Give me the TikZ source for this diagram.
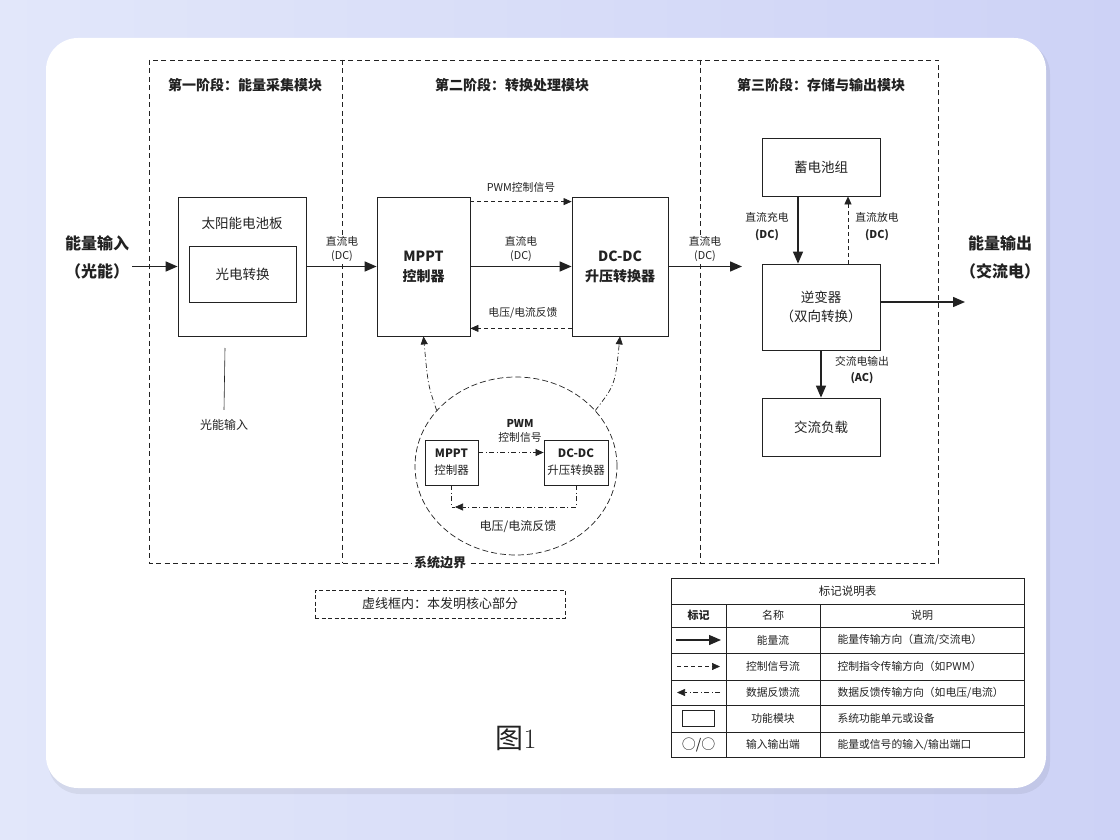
\documentclass[tikz,border=0pt]{standalone}
\usepackage{fontspec}
\newfontfamily\cjk{Noto Sans CJK SC}
\usetikzlibrary{arrows.meta,positioning,shapes.geometric}

\definecolor{bgleft}{HTML}{E2E7FA}
\definecolor{bgright}{HTML}{CDD2F6}
\definecolor{ink}{HTML}{222222}

\tikzset{
  blk/.style={draw=ink, line width=0.8pt, fill=white, align=center, inner sep=0pt},
  blktxt/.style={font=\cjk\fontsize{13.5}{19}\selectfont, align=center, text=ink},
  bigtxt/.style={font=\cjk\bfseries\fontsize{14}{20}\selectfont, align=center, text=ink},
  smalltxt/.style={font=\cjk\fontsize{11.5}{17}\selectfont, align=center, text=ink},
  lbl/.style={font=\cjk\fontsize{10.8}{14}\selectfont, align=center, text=ink},
  headtxt/.style={font=\cjk\bfseries\fontsize{16}{28}\selectfont, align=center, text=ink},
  stagetitle/.style={font=\cjk\bfseries\fontsize{14}{16}\selectfont, text=ink},
  energy/.style={draw=ink, line width=1.5pt, -{Triangle[length=12pt,width=10pt]}},
  ctrl/.style={draw=ink, line width=0.7pt, dash pattern=on 4pt off 3pt, -{Triangle[length=8pt,width=7pt]}},
  fback/.style={draw=ink, line width=0.7pt, dash pattern=on 5pt off 2.5pt on 1pt off 2.5pt, -{Triangle[length=8pt,width=7pt]}},
  frame/.style={draw=ink, line width=0.8pt, dash pattern=on 5pt off 3.5pt},
}

\begin{document}
\begin{tikzpicture}[x=1pt,y=-1pt]
\shade[left color=bgleft, right color=bgright] (0,0) rectangle (1120,840);
\useasboundingbox (0,0) rectangle (1120,840);
\fill[black, opacity=0.06, rounded corners=32pt] (48,42) rectangle (1050,794);
\fill[white, rounded corners=32pt] (46,38) rectangle (1046,788);

\draw[frame] (149,60) rectangle (938,563);
\draw[frame] (342,60) -- (342,563);
\draw[frame] (700,60) -- (700,563);

\node[stagetitle] (s1) at (245,85) {第一阶段：能量采集模块};
\node[stagetitle] (s2) at (512,85) {第二阶段：转换处理模块};
\node[stagetitle] (s3) at (821,85) {第三阶段：存储与输出模块};

% stage one
\node[headtxt] (ein) at (97,257) {能量输入\\（光能）};
\coordinate (inpt) at (132,266.5);
\node[blk, minimum width=128pt, minimum height=139pt] (panel) at (242,266.5) {};
\node[blktxt] (paneltxt) at (242,223) {太阳能电池板};
\node[blk, blktxt, minimum width=107pt, minimum height=56pt] (pv) at (242.5,274) {光电转换};
\draw[energy] (inpt) -- (panel.west);
\coordinate (pvtop) at (225,348);
\node[lbl, font=\cjk\fontsize{12}{14}\selectfont] (pvin) at (224,425) {光能输入};
\draw[draw=ink, line width=0.6pt] (pvtop) -- ([yshift=6pt]pvin.north);

% stage two
\node[blk, bigtxt, minimum width=93pt, minimum height=139pt] (mppt) at (423.5,266.5) {MPPT\\控制器};
\node[blk, bigtxt, minimum width=96pt, minimum height=139pt] (dcdc) at (620,266.5) {DC-DC\\升压转换器};
\draw[energy] (panel.east) -- (mppt.west);
\node[lbl, fill=white, inner sep=1.5pt] (dc1) at (342,249) {直流电\\(DC)};
\draw[ctrl] ([yshift=-5pt]mppt.north east) -- ([yshift=-5pt]dcdc.north west);
\node[lbl] (pwm) at (521,187) {PWM控制信号};
\draw[energy] (mppt.east) -- (dcdc.west);
\node[lbl] (dc2) at (521,249) {直流电\\(DC)};
\draw[ctrl] ([yshift=8pt]dcdc.south west) -- ([yshift=8pt]mppt.south east);
\node[lbl] (fb1) at (523,313) {电压/电流反馈};
\coordinate (dcout) at (742,266.5);
\draw[energy] (dcdc.east) -- (dcout);
\node[lbl, fill=white, inner sep=1.5pt] (dc3) at (705,249) {直流电\\(DC)};

\node[ellipse, draw=ink, line width=0.7pt, dash pattern=on 6pt off 3pt, minimum width=202pt, minimum height=178pt] (core) at (516,466) {};
\draw[fback] (core.145) .. controls (428,385) .. (mppt.south);
\draw[fback] (core.35) .. controls (615,385) .. (dcdc.south);
\node[blk, smalltxt, minimum width=53pt, minimum height=45pt] (smppt) at (451.5,462.5) {\textbf{MPPT}\\控制器};
\node[blk, smalltxt, minimum width=64pt, minimum height=45pt] (sdcdc) at (576,462.5) {\textbf{DC-DC}\\升压转换器};
\draw[fback] ([yshift=10pt]smppt.east) -- ([yshift=10pt]sdcdc.west);
\node[lbl] (pwm2) at (520,431) {\textbf{PWM}\\控制信号};
\coordinate (fbend) at (455,507);
\draw[fback] (sdcdc.south) |- (fbend);
\draw[fback, -] (smppt.south) |- (fbend);
\node[lbl, font=\cjk\fontsize{12}{14}\selectfont] (fb2) at (518,527) {电压/电流反馈};

\node[font=\cjk\bfseries\fontsize{13}{15}\selectfont, text=ink, fill=white, inner sep=2pt] (sysb) at (440,563) {系统边界};
\node[draw=ink, line width=0.6pt, dash pattern=on 4pt off 2.5pt, minimum width=250pt, minimum height=28pt, font=\cjk\fontsize{13}{15}\selectfont, text=ink] (note) at (440,604) {虚线框内：本发明核心部分};

% stage three
\node[blk, blktxt, minimum width=118pt, minimum height=58pt] (bat) at (821,167) {蓄电池组};
\node[blk, blktxt, minimum width=118pt, minimum height=86pt] (inv) at (821,307) {逆变器\\（双向转换）};
\node[blk, blktxt, minimum width=118pt, minimum height=58pt] (load) at (821,427) {交流负载};
\draw[energy] ([xshift=-23pt]bat.south) -- ([xshift=-23pt]inv.north);
\node[lbl] (chg) at (767,227) {直流充电\\[3pt]\textbf{(DC)}};
\draw[ctrl] ([xshift=27pt]inv.north) -- ([xshift=27pt]bat.south);
\node[lbl] (dis) at (877,227) {直流放电\\[3pt]\textbf{(DC)}};
\coordinate (acout) at (965,302);
\draw[energy] ([yshift=5pt]inv.east) -- (acout);
\node[headtxt] (eout) at (1000,257) {能量输出\\（交流电）};
\draw[energy] (inv.south) -- (load.north);
\node[lbl] (acl) at (862,370) {交流电输出\\[2pt]\textbf{(AC)}};

% legend
\draw[draw=ink, line width=0.7pt] (671,578) rectangle (1024,757);
\foreach \yy in {604,627,653,680,705,732}
  \draw[draw=ink, line width=0.5pt] (671,\yy) -- (1024,\yy);
\draw[draw=ink, line width=0.5pt] (726,604) -- (726,757);
\draw[draw=ink, line width=0.5pt] (820,604) -- (820,757);
\node[lbl, font=\cjk\fontsize{11.5}{13}\selectfont] (lgtitle) at (847.5,591) {标记说明表};
\node[lbl, font=\cjk\bfseries\fontsize{11}{13}\selectfont] (lgh1) at (698.5,615.5) {标记};
\node[lbl, font=\cjk\fontsize{11}{13}\selectfont] (lgh2) at (773,615.5) {名称};
\node[lbl, font=\cjk\fontsize{11}{13}\selectfont] (lgh3) at (922,615.5) {说明};

\coordinate (l1a) at (676,640);
\coordinate (l1b) at (721,640);
\draw[energy, line width=1.3pt] (l1a) -- (l1b);
\coordinate (l2a) at (677,666.5);
\coordinate (l2b) at (720,666.5);
\draw[ctrl] (l2a) -- (l2b);
\coordinate (l3a) at (720,692.5);
\coordinate (l3b) at (677,692.5);
\draw[fback] (l3a) -- (l3b);
\node[draw=ink, line width=0.7pt, minimum width=32pt, minimum height=16pt] (lbox) at (698.5,718.5) {};
\node[lbl, font=\cjk\fontsize{14}{16}\selectfont] (lport) at (698.5,744.5) {○/○};

\node[lbl] (n1) at (773,640) {能量流};
\node[lbl] (n2) at (773,666.5) {控制信号流};
\node[lbl] (n3) at (773,692.5) {数据反馈流};
\node[lbl] (n4) at (773,718.5) {功能模块};
\node[lbl] (n5) at (773,744.5) {输入输出端};
\node[lbl, anchor=west] (d1) at (834,640) {能量传输方向（直流/交流电）};
\node[lbl, anchor=west] (d2) at (834,666.5) {控制指令传输方向（如PWM）};
\node[lbl, anchor=west] (d3) at (834,692.5) {数据反馈传输方向（如电压/电流）};
\node[lbl, anchor=west] (d4) at (834,718.5) {系统功能单元或设备};
\node[lbl, anchor=west] (d5) at (834,744.5) {能量或信号的输入/输出端口};

\node[font=\cjk\fontsize{28}{30}\selectfont, text=ink] (fig) at (516,738) {图{\normalfont 1}};
\end{tikzpicture}
\end{document}
